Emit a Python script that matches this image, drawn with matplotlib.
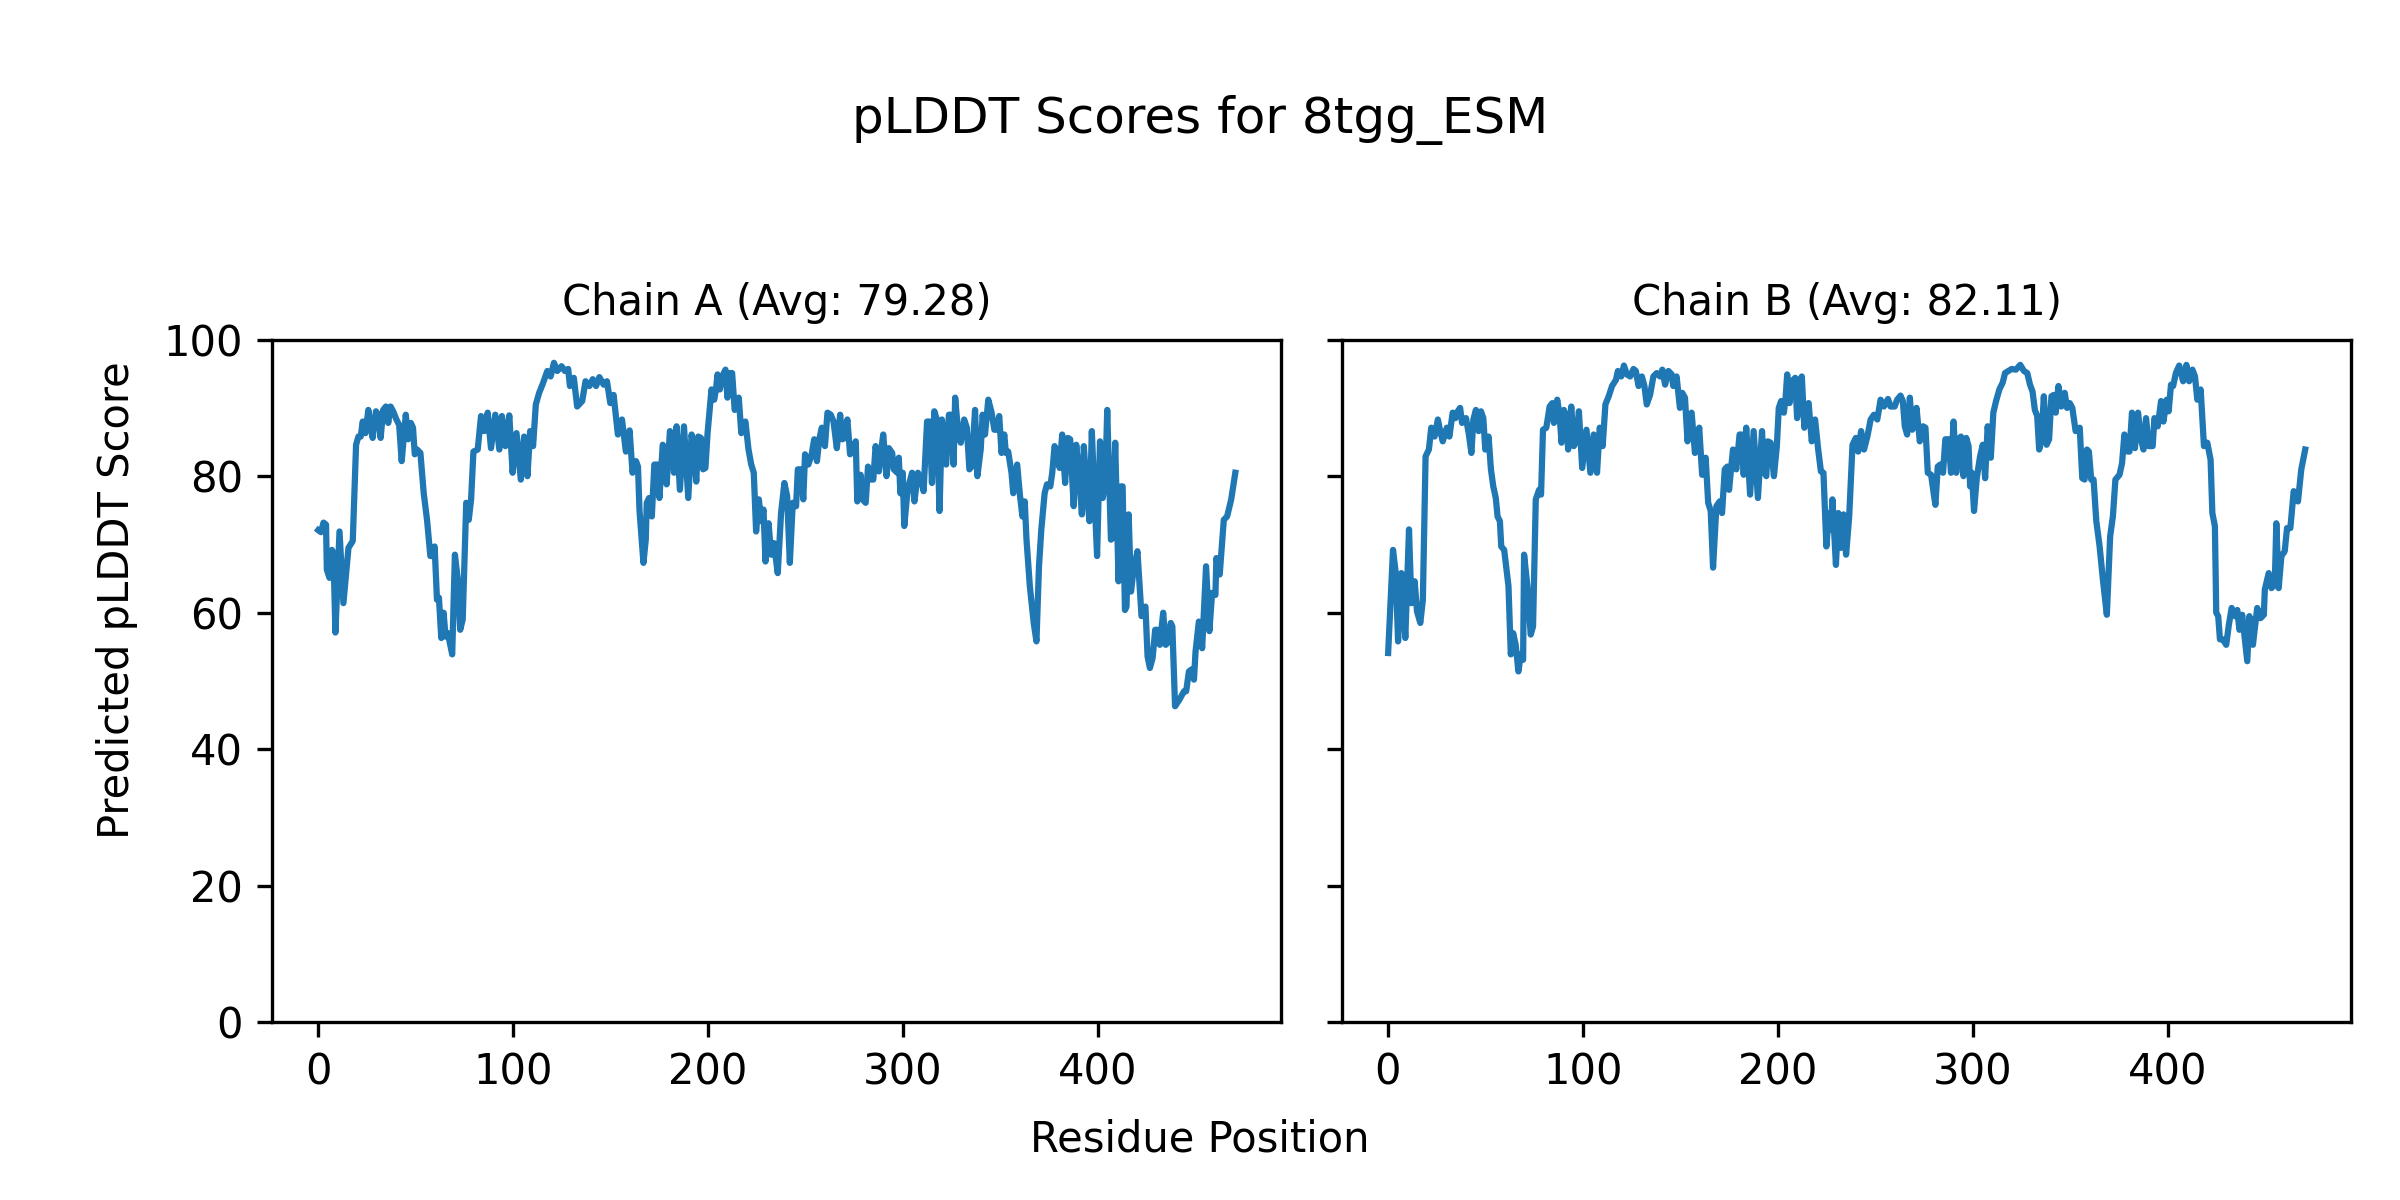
import matplotlib
matplotlib.use("Agg")
import matplotlib.pyplot as plt

title = "pLDDT Scores for 8tgg_ESM"
chain_titles = ["Chain A (Avg: 79.28)", "Chain B (Avg: 82.11)"]
x_label = "Residue Position"
y_label = "Predicted pLDDT Score"

# Chain A: residue positions and pLDDT values
a_res = [0, 1.4, 2.7, 4, 4.4, 5.8, 7.0, 7.8, 8.8, 10.9, 12.9, 15.5, 17.7, 19.4, 20.6, 21.8,
         22.8, 24.2, 25.7, 26.9, 27.9, 29.6, 30.8, 32, 33.3, 34.7, 35.9, 37.1, 38.4, 40.1,
         41.5, 42.8, 44.9, 46.1, 47.5, 48.6, 49.5, 50.7, 52.4, 54.1, 55.8, 57.5, 58.5, 59.7,
         60.9, 61.9, 63.1, 64.3, 65.3, 66.5, 68.7, 70.1, 71.6, 72.8, 74.1, 75.9, 77.2, 78.4,
         79.6, 81.8, 83.5, 85.2, 86.9, 88.6, 90.8, 92.9, 94.2, 96.0, 98.0, 99.7, 101.7, 103.9,
         105.6, 107.3, 108.7, 110.2, 111.6, 113.3, 115.0, 117.5, 119.2, 120.9, 122.6, 124.8,
         126.5, 128.2, 129.1, 131.1, 132.8, 135.4, 137.1, 139.1, 140.8, 142.5, 144.2, 146.4,
         148.1, 149.8, 151.5, 153.7, 155.8, 157.8, 159.7, 161.2, 163.0, 164.0, 164.8, 166.8,
         168.0, 168.5, 169.7, 171.1, 172.4, 174.1, 175.0, 176.7, 177.9, 178.7, 180.4, 181.3,
         182.5, 183.8, 185.5, 187.6, 189.8, 191.5, 192.7, 193.9, 194.9, 196.3, 197.4, 198.6,
         199.7, 200.9, 201.7, 203.1, 204.0, 204.8, 206.0, 207.2, 208.9, 209.9, 211.1, 212.3,
         213.6, 215.7, 217.0, 219.1, 220.7, 222.1, 223.4, 224.6, 226.0, 227.2, 228.4, 229.4,
         231.0, 232.3, 233.7, 235.7, 237.4, 239.1, 240.5, 241.9, 243.4, 245.1, 246.0, 247.6,
         248.8, 249.7, 251.4, 253.1, 254.4, 255.8, 257.0, 258.3, 259.9, 261.2, 262.9, 264.3,
         266.0, 267.7, 268.9, 270.1, 271.4, 272.8, 274.5, 275.7, 276.5, 278.2, 279.1, 280.8,
         282.0, 283.7, 284.7, 285.9, 287.6, 288.4, 289.8, 291.5, 292.7, 294.4, 295.2, 297.0,
         297.8, 298.6, 299.8, 300.6, 302.3, 304.6, 305.8, 307.6, 309.2, 310.5, 312.3, 313.6,
         314.8, 316.0, 317.3, 318.7, 319.9, 322.1, 323.5, 324.5, 325.9, 326.7, 328.4, 329.6,
         331.3, 332.7, 334.0, 335.2, 336.9, 338.1, 339.8, 340.8, 342.0, 343.7, 345.4, 346.8,
         348.0, 349.3, 350.5, 351.9, 352.7, 353.9, 355.6, 356.5, 358.5, 359.9, 361.2, 362.4,
         363.3, 365.0, 367.0, 368.4, 369.7, 370.9, 372.6, 373.8, 375.5, 376.5, 377.7, 379.4,
         380.3, 381.6, 383.1, 384.5, 385.7, 387.5, 388.8, 390.5, 391.7, 392.7, 394.2, 395.6,
         396.8, 398.1, 399.5, 401.0, 402.4, 403.7, 404.7, 406.6, 407.5, 408.8, 410.5, 411.7,
         412.6, 413.8, 414.6, 415.7, 416.9, 418.0, 420.2, 422.3, 424.3, 425.4, 426.6, 428.0,
         429.3, 430.5, 431.7, 433.4, 434.7, 435.7, 437.3, 438.1, 439.5, 441.8, 444.1, 445.2,
         446.6, 448.0, 449.2, 450.0, 451.7, 453.4, 455.4, 457.1, 458.5, 460.2, 460.7, 462.4,
         464.5, 466.2, 468.3, 470.4]
a_plddt = [72.1, 71.8, 73.2, 72.9, 66.3, 65.1, 69.2, 68.7, 57.1, 71.9, 61.4, 69.5, 70.5, 84.6,
           85.8, 85.8, 88.0, 86.3, 89.7, 87.3, 85.6, 89.5, 89.0, 85.6, 89.7, 90.2, 87.8, 90.2,
           89.5, 88.3, 87.5, 82.2, 89.0, 85.4, 87.8, 87.1, 83.2, 83.9, 83.4, 77.5, 73.6, 68.3,
           68.3, 69.7, 61.9, 62.2, 56.3, 60.0, 56.5, 57.0, 53.9, 68.5, 64.8, 57.5, 59.0, 76.1,
           73.6, 76.6, 83.6, 83.9, 88.8, 86.6, 89.3, 84.1, 89.0, 83.9, 88.8, 84.4, 88.9, 80.5,
           86.3, 79.5, 85.8, 80.0, 86.6, 84.4, 90.5, 92.2, 93.4, 95.4, 94.6, 96.6, 95.4, 96.1,
           95.4, 95.7, 93.2, 94.4, 90.2, 91.0, 93.9, 93.2, 94.2, 93.2, 94.5, 93.4, 93.9, 90.7,
           91.9, 86.1, 88.3, 83.6, 86.7, 80.5, 82.2, 81.4, 74.9, 67.3, 70.7, 76.1, 76.8, 74.1,
           81.7, 81.7, 76.8, 84.6, 83.9, 78.8, 86.6, 86.1, 80.5, 87.3, 78.0, 87.3, 76.8, 86.1,
           83.9, 79.2, 85.8, 85.6, 81.0, 81.2, 86.3, 90.2, 92.7, 91.2, 92.7, 94.9, 92.7, 94.6,
           95.6, 91.5, 95.1, 95.1, 89.7, 91.5, 86.3, 88.0, 83.9, 81.7, 80.5, 71.9, 76.6, 73.4,
           75.1, 67.5, 73.1, 68.5, 70.2, 65.8, 74.6, 79.0, 77.1, 67.3, 76.1, 75.6, 81.0, 81.0,
           76.6, 83.2, 81.7, 83.2, 85.4, 82.2, 85.4, 87.1, 84.4, 89.3, 89.0, 88.0, 84.1, 89.0,
           85.4, 85.6, 88.3, 83.2, 83.9, 85.1, 76.3, 80.2, 76.6, 76.1, 81.4, 79.5, 79.5, 84.4,
           80.7, 82.9, 86.1, 80.0, 84.1, 83.4, 81.0, 80.5, 82.7, 77.5, 80.5, 72.7, 78.0, 80.5,
           76.3, 80.5, 79.5, 77.8, 88.0, 88.0, 79.0, 89.5, 88.3, 74.9, 88.3, 81.7, 89.0, 89.0,
           81.7, 91.5, 85.8, 84.9, 88.3, 87.1, 81.0, 81.4, 89.7, 80.0, 83.9, 89.0, 86.1, 91.2,
           89.3, 86.8, 86.8, 88.8, 83.4, 86.1, 83.4, 83.6, 80.5, 77.5, 81.7, 77.3, 74.1, 76.3,
           70.7, 63.9, 58.5, 55.8, 66.8, 72.2, 77.5, 78.8, 78.5, 80.5, 84.4, 83.2, 81.2, 86.1,
           79.0, 85.6, 85.4, 75.6, 84.6, 79.5, 74.4, 84.4, 77.8, 73.4, 86.6, 77.5, 68.3, 85.1,
           76.8, 79.0, 89.7, 70.7, 70.9, 84.9, 64.6, 78.5, 78.5, 60.4, 60.9, 74.4, 63.1, 65.8,
           69.0, 59.5, 60.9, 53.6, 51.9, 53.4, 57.5, 57.5, 55.3, 60.0, 55.3, 55.6, 58.5, 58.0,
           46.3, 47.3, 48.5, 48.5, 51.4, 51.7, 50.2, 54.3, 58.7, 54.8, 66.8, 57.3, 62.9, 62.6,
           68.0, 65.6, 73.6, 74.1, 76.6, 80.5]

# Chain B
b_res = [0.2, 2.7, 4.1, 5.3, 7.0, 7.8, 9.0, 10.9, 12.1, 13.8, 15.0, 16.7, 18.0, 19.4, 21.1,
         22.3, 24.0, 25.7, 26.9, 28.2, 30.3, 31.6, 33.3, 34.7, 35.9, 37.1, 38.1, 40.1, 41.5,
         42.9, 43.9, 45.2, 46.6, 47.8, 49.0, 50.0, 51.7, 52.9, 54.1, 55.4, 56.3, 57.5, 58.2,
         59.7, 61.9, 63.1, 64.3, 65.6, 67.0, 68.2, 69.4, 69.9, 71.6, 73.3, 74.5, 75.9, 77.6,
         78.6, 79.6, 81.3, 83.0, 84.4, 85.2, 86.9, 88.1, 89.1, 90.3, 91.5, 92.5, 94.1, 95.4,
         96.6, 98.0, 99.7, 101.9, 103.9, 105.6, 107.3, 108.7, 110.2, 111.6, 113.3, 115.0, 117.0,
         118.0, 119.7, 121.1, 122.6, 124.3, 126.0, 127.2, 128.6, 130.3, 131.6, 132.8, 134.5,
         136.2, 137.9, 139.6, 140.8, 142.2, 143.9, 145.6, 146.4, 148.1, 149.8, 151.0, 152.4,
         153.7, 155.8, 157.5, 159.7, 161.2, 163.0, 164.3, 165.6, 166.8, 168.5, 170.2, 171.4,
         172.8, 174.1, 175.0, 177.0, 178.7, 180.4, 181.3, 182.5, 183.8, 185.8, 187.6, 189.8,
         191.9, 192.9, 194.1, 194.9, 196.3, 198.0, 199.5, 200.5, 201.7, 203.1, 204.0, 204.8,
         206.0, 207.2, 208.9, 209.9, 211.1, 212.3, 213.6, 215.8, 217.4, 219.1, 220.7, 222.1,
         223.4, 224.9, 226.3, 227.2, 228.0, 229.8, 231.0, 232.3, 233.7, 235.0, 236.6, 238.3,
         240.0, 241.2, 242.7, 244.2, 245.9, 247.6, 249.3, 251.0, 252.7, 254.4, 256.5, 257.8,
         259.9, 261.2, 262.9, 264.1, 265.1, 266.3, 267.7, 268.9, 270.1, 271.1, 272.8, 274.5,
         275.7, 276.9, 278.6, 280.0, 280.8, 282.0, 283.3, 284.7, 285.9, 287.6, 288.8, 290.1,
         291.5, 292.7, 293.9, 295.2, 296.6, 297.8, 298.6, 299.5, 300.6, 302.0, 303.7, 305.1,
         306.3, 307.6, 309.2, 310.5, 311.9, 313.6, 315.3, 316.5, 318.2, 319.9, 322.1, 324.3,
         326.2, 327.9, 329.3, 330.6, 331.8, 333.0, 334.0, 335.2, 336.4, 337.8, 339.1, 340.3,
         341.5, 342.5, 343.9, 345.4, 347.1, 348.3, 349.7, 351.0, 352.7, 354.8, 356.1, 357.3,
         358.5, 359.5, 360.7, 361.9, 363.3, 365.0, 366.7, 368.7, 370.4, 371.8, 373.1, 375.2,
         376.5, 377.7, 379.4, 380.3, 381.6, 383.1, 384.7, 386.2, 387.5, 388.8, 390.2, 392.2,
         393.1, 394.8, 396.5, 397.7, 399.4, 400.4, 401.6, 402.7, 404.1, 405.8, 407.8, 409.5,
         410.9, 412.6, 413.9, 415.1, 416.8, 418.5, 420.2, 421.9, 422.8, 424.1, 424.8, 425.8,
         426.7, 428.2, 429.9, 431.3, 432.7, 434.4, 435.6, 436.7, 438.1, 439.5, 440.7, 441.8,
         443.6, 445.8, 447.5, 449.2, 449.7, 451.7, 453.1, 454.8, 455.6, 456.8, 458.2, 459.9,
         461.1, 462.8, 464.5, 466.7, 468.4, 470.4]
b_plddt = [54.1, 69.2, 65.8, 55.8, 65.8, 62.9, 56.3, 72.2, 61.4, 64.6, 60.2, 58.5, 61.9, 82.9,
           83.9, 87.1, 85.8, 88.3, 86.6, 85.1, 87.1, 85.8, 89.3, 88.5, 89.5, 90.0, 87.8, 88.5,
           86.3, 83.4, 88.3, 89.7, 86.6, 89.5, 88.5, 83.9, 85.8, 81.0, 78.5, 76.8, 74.1, 73.4,
           69.7, 69.2, 63.9, 53.9, 57.0, 55.3, 51.4, 53.9, 53.1, 68.5, 63.9, 56.8, 58.0, 76.6,
           78.0, 77.3, 86.8, 87.1, 90.2, 90.7, 87.8, 91.2, 89.0, 84.9, 89.7, 88.8, 83.9, 90.2,
           84.4, 85.1, 89.5, 81.2, 86.8, 80.5, 86.1, 80.5, 87.1, 84.4, 90.5, 91.7, 93.2, 94.1,
           95.4, 94.6, 96.2, 94.9, 94.6, 95.7, 95.4, 93.2, 94.6, 93.2, 90.5, 91.9, 94.6, 95.1,
           94.6, 95.6, 93.4, 95.4, 94.9, 93.2, 94.6, 90.0, 92.2, 91.5, 85.1, 89.3, 83.4, 87.1,
           80.2, 82.7, 76.1, 74.9, 66.6, 75.6, 76.3, 74.6, 81.0, 81.4, 78.0, 83.9, 81.0, 86.1,
           86.1, 80.2, 87.1, 77.3, 86.6, 76.8, 86.6, 80.7, 80.0, 85.1, 84.9, 80.0, 84.4, 90.0,
           91.0, 89.3, 91.5, 94.9, 90.7, 93.9, 94.4, 88.5, 93.9, 94.6, 87.1, 90.7, 85.1, 88.3,
           83.9, 80.7, 80.5, 69.7, 74.6, 72.2, 76.6, 67.0, 74.6, 69.5, 74.4, 68.5, 74.1, 84.6,
           85.6, 83.6, 86.6, 83.9, 85.8, 88.3, 89.0, 88.3, 91.2, 90.2, 91.3, 90.2, 90.2, 91.2,
           91.8, 91.0, 87.3, 86.1, 91.5, 86.8, 87.5, 90.0, 85.1, 87.3, 87.1, 80.5, 80.2, 77.3,
           75.8, 81.4, 81.7, 80.5, 85.4, 85.4, 80.5, 88.0, 80.5, 85.4, 85.8, 80.0, 85.6, 84.4,
           78.5, 80.5, 74.9, 79.7, 82.9, 84.6, 79.7, 87.3, 82.7, 89.3, 91.0, 92.7, 93.7, 95.1,
           95.4, 95.7, 95.6, 96.3, 95.4, 95.1, 93.4, 92.4, 89.7, 88.8, 83.9, 85.4, 91.7, 84.6,
           85.4, 91.7, 91.9, 89.3, 93.2, 90.2, 92.2, 90.0, 90.7, 90.0, 86.6, 87.1, 79.7, 79.5,
           83.9, 83.6, 79.5, 79.5, 73.4, 69.7, 64.8, 59.7, 71.2, 74.1, 79.5, 80.2, 81.9, 86.1,
           83.6, 83.6, 89.3, 84.1, 89.3, 85.4, 83.9, 88.5, 84.4, 84.4, 88.5, 87.3, 91.0, 88.0,
           91.2, 89.5, 93.4, 93.2, 95.1, 96.2, 93.9, 96.3, 93.9, 95.6, 94.6, 91.2, 92.7, 84.4,
           84.9, 82.4, 74.6, 72.7, 60.0, 59.5, 56.1, 56.1, 55.3, 58.3, 60.7, 59.5, 60.4, 57.5,
           59.7, 56.1, 52.9, 59.5, 55.3, 60.7, 59.2, 59.7, 63.4, 65.8, 63.6, 64.1, 73.1, 63.6,
           68.3, 69.0, 72.4, 72.4, 77.8, 76.3, 81.0, 83.9]

fig, axes = plt.subplots(1, 2, figsize=(8, 4), dpi=300, sharey=True)
fig.subplots_adjust(left=0.1135, right=0.9796, bottom=0.148, top=0.717, wspace=0.0606)

for ax, res, vals, t in zip(axes, [a_res, b_res], [a_plddt, b_plddt], chain_titles):
    ax.plot(res, vals, color="#1f77b4", linewidth=1.5)
    ax.set_title(t, fontsize=10)
    ax.set_ylim(0, 100)
    ax.set_xticks([0, 100, 200, 300, 400])

fig.suptitle(title, fontsize=12, y=0.90, va="center")
fig.text(0.5, 0.04, x_label, ha="center", fontsize=10)
fig.text(0.04, 0.5, y_label, va="center", rotation="vertical", fontsize=10)

fig.savefig("out.png", dpi=300)
